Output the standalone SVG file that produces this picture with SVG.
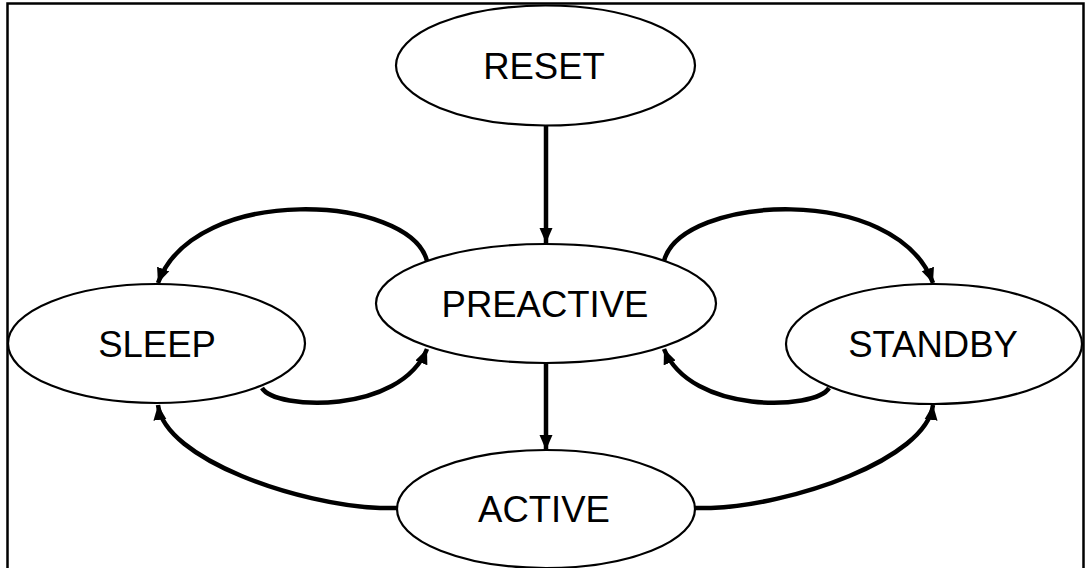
<svg xmlns="http://www.w3.org/2000/svg" width="1085" height="568" viewBox="0 0 1085 568">
<style>
.node ellipse{fill:#fff;stroke:#000;stroke-width:2.2}
.node text{font-family:"Liberation Sans",Arial,sans-serif;font-size:36.5px;fill:#000;text-anchor:middle}
.conn path{fill:none;stroke:#000;stroke-width:4.5;marker-end:url(#ah)}
</style>
<defs>
<marker id="ah" markerUnits="userSpaceOnUse" markerWidth="16" markerHeight="16" refX="15" refY="7.5" orient="auto">
<path d="M0,1 L15,7.5 L0,14 z" fill="#000"/>
</marker>
</defs>
<rect x="0" y="0" width="1085" height="568" fill="#fff"/>
<rect x="7.5" y="3.5" width="1076" height="620" fill="none" stroke="#000" stroke-width="2.5"/>
<g id="reset" class="node"><ellipse cx="545.5" cy="65.5" rx="149.5" ry="60"/><text x="544" y="79">RESET</text></g>
<g id="preactive" class="node"><ellipse cx="546" cy="303.5" rx="170" ry="59.5"/><text x="545" y="317">PREACTIVE</text></g>
<g id="sleep" class="node"><ellipse cx="156.5" cy="343.5" rx="148.5" ry="59.5"/><text x="157" y="357">SLEEP</text></g>
<g id="standby" class="node"><ellipse cx="934" cy="344" rx="148" ry="60"/><text x="933" y="357">STANDBY</text></g>
<g id="active" class="node"><ellipse cx="546" cy="509" rx="149" ry="59"/><text x="544" y="522">ACTIVE</text></g>
<g id="connectors" class="conn">
<path d="M546,125.5 L546,243"/>
<path d="M546,363 L546,450"/>
<path d="M427,261 C410,195 195,182 158,283"/>
<path d="M262,388 C275,410 400,415 427,349"/>
<path d="M664,261 C681,195 896,182 933,283"/>
<path d="M829,388 C816,410 691,415 664,349"/>
<path d="M397,508 L380,508 C300,505 165,460 158,405"/>
<path d="M695,508 L711,508 C791,505 926,460 933,405"/>
</g>
</svg>
